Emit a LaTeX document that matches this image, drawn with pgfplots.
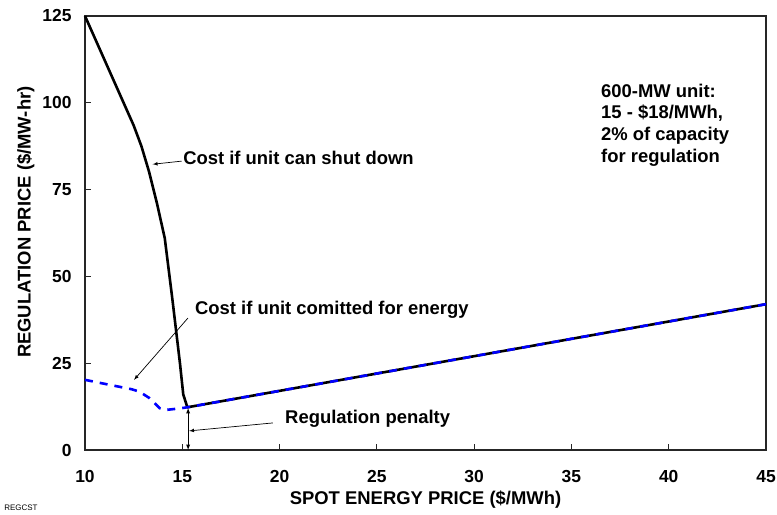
\documentclass[border=0pt]{standalone}
\usepackage{pgfplots}
\pgfplotsset{compat=1.18}
\usepackage{fontspec}
\setmainfont{Liberation Sans}
\begin{document}
\begin{tikzpicture}
\useasboundingbox (-85bp,-65bp) rectangle (692bp,450bp);
\begin{axis}[
    at={(0,0)}, anchor=south west,
    width=681bp, height=434bp, scale only axis,
    xmin=10, xmax=45, ymin=0, ymax=125,
    xtick={10,15,...,45}, ytick={0,25,...,125},
    xtick pos=left, ytick pos=left,
    tick align=inside, major tick length=6bp,
    axis line style={line width=1.2bp, black!85},
    tick style={black!85, line width=0.9bp},
    ticklabel style={font=\fontsize{17.5}{20}\selectfont\bfseries},
    /pgf/number format/assume math mode=true,
    xticklabel style={yshift=-17bp},
    yticklabel style={xshift=-10bp},
    xlabel={SPOT ENERGY PRICE (\$/MWh)},
    ylabel={REGULATION PRICE (\$/MW-hr)},
    label style={font=\fontsize{18.5}{21}\selectfont\bfseries},
    xlabel style={at={(axis description cs:0.5,-0.115)}, anchor=center},
    ylabel style={at={(axis description cs:-0.087,0.525)}, anchor=center},
    clip=false,
]
\addplot[black, line width=2.6bp, line join=round] coordinates {
(10,125) (12.5,93.5) (12.9,87.5) (13.3,80) (13.7,71) (14.1,61) (14.5,43) (14.88,25)
(15.05,16) (15.26,12.3) (45,42)};
\addplot[blue, line width=2.6bp, dash pattern=on 8bp off 7bp] coordinates {
(10,20.2) (12.4,17.5) (12.8,16.8) (13.3,15) (13.85,12) (14.1,11.5)
(14.9,12) (15.26,12.3) (45,42)};

\node[anchor=west, inner sep=0pt, font=\fontsize{18.5}{21}\selectfont\bfseries] at (axis cs:15.04,84.1) {Cost if unit can shut down};
\draw[-latex, line width=0.7bp] (axis cs:14.97,83.2) -- (axis cs:13.48,82.3);
\node[anchor=west, inner sep=0pt, font=\fontsize{18.5}{21}\selectfont\bfseries] at (axis cs:15.65,40.3) {Cost if unit comitted for energy};
\draw[-latex, line width=0.7bp] (axis cs:15.29,38.0) -- (axis cs:12.52,20.2);
\node[anchor=west, inner sep=0pt, font=\fontsize{18.5}{21}\selectfont\bfseries] at (axis cs:20.28,8.9) {Regulation penalty};
\draw[-latex, line width=0.7bp] (axis cs:19.66,7.8) -- (axis cs:15.35,5.5);
\draw[latex-latex, line width=0.9bp] (axis cs:15.3,0) -- (axis cs:15.3,12.1);
\node[anchor=north west, inner sep=0pt, align=left, font=\fontsize{18.5}{21.7}\selectfont\bfseries] at (axis cs:36.52,105.5)
  {600-MW unit:\\15 - \$18/MWh,\\2\% of capacity\\for regulation};
\node[anchor=west, inner sep=0pt, font=\fontsize{8}{9}\selectfont] at (axis cs:5.84,-16.7) {REGCST};
\end{axis}
\end{tikzpicture}
\end{document}
